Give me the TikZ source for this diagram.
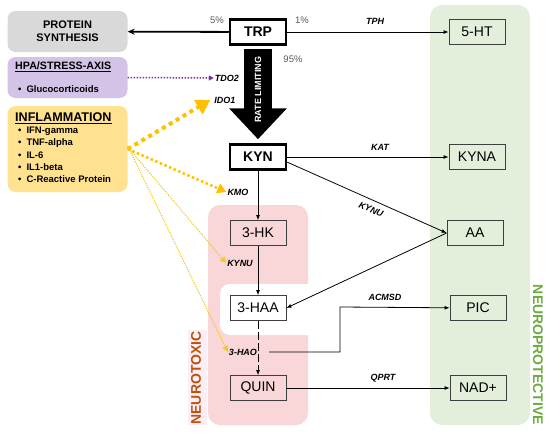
\documentclass[tikz,border=0pt]{standalone}
\usepackage{fontspec}
\setmainfont{Liberation Sans}
\usepackage{tikz}
\usetikzlibrary{positioning, arrows.meta}

\definecolor{boxline}{HTML}{3F3F3F}
\definecolor{protgray}{HTML}{D9D9D9}
\definecolor{hpapurple}{HTML}{D3C3E6}
\definecolor{dotpurple}{HTML}{7030A0}
\definecolor{inflyellow}{HTML}{FFE28F}
\definecolor{dotyellow}{HTML}{FFC000}
\definecolor{thinyellow}{HTML}{F2CB2B}
\definecolor{toxpink}{HTML}{F9D6D7}
\definecolor{toxfaint}{HTML}{FDEEF6}
\definecolor{toxtext}{HTML}{B8530F}
\definecolor{progreen}{HTML}{E3EFDB}
\definecolor{protext}{HTML}{6DAA3F}
\definecolor{pctgray}{HTML}{595959}

\tikzset{
  met/.style={draw=boxline, line width=0.8pt, minimum width=56pt, minimum height=25pt,
    inner sep=0pt, font=\fontsize{14}{16}\selectfont},
  mainmet/.style={met, draw=black, line width=2.5pt, font=\fontsize{14}{16}\selectfont\bfseries},
  enz/.style={font=\fontsize{9}{10}\selectfont\bfseries\itshape, inner sep=1pt},
  pct/.style={font=\fontsize{9.5}{10}\selectfont, text=pctgray, inner sep=1pt},
  conn/.style={-{Latex[length=5pt,width=4pt]}, line width=0.8pt},
  infobox/.style={rounded corners=8pt, minimum width=120pt, inner sep=0pt},
  region/.style={rounded corners=12pt},
}

\begin{document}
\begin{tikzpicture}[x=1pt, y=-1pt, node distance=2cm, on grid]
  \useasboundingbox (0,0) rectangle (550,434);

  % Regiones de fondo
  \fill[progreen, region] (430,5) rectangle (530,425);
  \fill[toxfaint] (188,330) rectangle (207,425);
  \fill[toxpink, region] (208,205) rectangle (308,425);
  \fill[white, rounded corners=10pt] (220,284) rectangle (320,335);
  \node[rotate=-90, text=protext, font=\fontsize{14}{16}\selectfont\bfseries, inner sep=0pt]
    (protlbl) at (538,355) {NEUROPROTECTIVE};
  \node[rotate=90, text=toxtext, font=\fontsize{14}{16}\selectfont\bfseries, inner sep=0pt]
    (toxlbl) at (196,378) {NEUROTOXIC};

  % Cajas de la izquierda
  \node[infobox, fill=protgray, minimum height=41pt, align=center,
    font=\fontsize{11}{13}\selectfont\bfseries] (prot) at (67.5,31.5) {PROTEIN\\SYNTHESIS};
  \node[infobox, fill=hpapurple, minimum height=41pt] (hpa) at (67.5,77.5) {};
  \node[anchor=west, inner sep=0pt, font=\fontsize{10.7}{12}\selectfont\bfseries]
    (hpatitle) at (15,67) {\underline{HPA/STRESS-AXIS}};
  \node[anchor=west, inner sep=0pt, font=\fontsize{9.5}{11}\selectfont\bfseries]
    (hpaitem) at (18,89) {\textbullet\hspace{5pt}Glucocorticoids};
  \node[infobox, fill=inflyellow, minimum height=86pt] (infl) at (67.5,149) {};
  \node[anchor=west, inner sep=0pt, font=\fontsize{12.6}{14}\selectfont\bfseries]
    (infltitle) at (15,118) {\underline{INFLAMMATION}};
  \node[anchor=north west, inner sep=0pt, align=left, font=\fontsize{9.5}{12.25}\selectfont\bfseries]
    (infllist) at (18,127) {\textbullet\hspace{5pt}IFN-gamma\\
      \textbullet\hspace{5pt}TNF-alpha\\
      \textbullet\hspace{5pt}IL-6\\
      \textbullet\hspace{5pt}IL1-beta\\
      \textbullet\hspace{5pt}C-Reactive Protein};

  % Metabolitos
  \node[mainmet] (trp) at (258,32) {TRP};
  \node[mainmet] (kyn) [below=125pt of trp] {KYN};
  \node[met, fill=toxpink] (hk) [below=76pt of kyn] {3-HK};
  \node[met, fill=white] (haa) [below=75pt of hk] {3-HAA};
  \node[met, fill=toxpink] (quin) [below=80pt of haa] {QUIN};
  \node[met] (sht) [right=219pt of trp] {5-HT};
  \node[met] (kyna) [right=219pt of kyn] {KYNA};
  \node[met] (aa) [right=217pt of hk] {AA};
  \node[met] (pic) [right=220pt of haa] {PIC};
  \node[met] (nad) [right=220pt of quin] {NAD+};

  % Enzimas y porcentajes
  \node[enz] (tph) at (375,21) {TPH};
  \node[enz] (kat) at (380,147) {KAT};
  \node[enz] (kmo) at (238,192) {KMO};
  \node[enz] (kynu) at (240,263) {KYNU};
  \node[enz] (hao) at (243,352) {3-HAO};
  \node[enz] (acmsd) at (385,297) {ACMSD};
  \node[enz] (qprt) at (383,378) {QPRT};
  \node[enz] (tdo) at (227,78) {TDO2};
  \node[enz] (ido) at (225,100) {IDO1};
  \node[pct] (p5) at (217,20) {5\%};
  \node[pct] (p1) at (302,20) {1\%};
  \node[pct] (p95) at (293,59) {95\%};
  \coordinate (branch) at (269,352);

  % Flecha grande
  \draw[line width=28pt, -{Triangle[length=31pt,width=56pt]}, shorten <=3pt, shorten >=4pt]
    (trp) -- (kyn) node[pos=0.45, rotate=90, text=white,
      font=\fontsize{9}{10}\selectfont\bfseries] (ratelbl) {RATE LIMITING};

  % Conexiones
  \draw[-{Stealth[length=7pt,width=6pt]}, line width=1.8pt] (trp) -- (prot);
  \draw[conn] (trp) -- (sht);
  \draw[conn] (kyn) -- (kyna);
  \draw[conn] (kyn.-10) -- (aa.west);
  \draw[conn] (aa.west) -- (haa.east);
  \draw[conn] (kyn) -- (hk);
  \draw[conn] (hk) -- (haa);
  \draw[conn, dash pattern=on 8pt off 3pt] (haa) -- (quin);
  \draw[conn] (branch) -| (340,307) -- (pic);
  \draw[conn] (quin) -- (nad);
  \path (kyn.-10) -- (aa.west) node[enz, pos=0.55, sloped, below=5pt] (kynuaa) {KYNU};

  % Flechas punteadas de regulacion
  \draw[dotpurple, line width=1.5pt, dash pattern=on 1.5pt off 1.5pt,
    -{Triangle[length=5pt,width=5pt]}] (hpa.east) -- (tdo.west);
  \draw[dotyellow, line width=4pt, dash pattern=on 4pt off 4pt,
    -{Triangle[length=14pt,width=16pt]}] (infl.east) -- ([xshift=-3pt]ido.west);
  \draw[dotyellow, line width=2.5pt, dash pattern=on 2.5pt off 2.5pt,
    -{Triangle[length=9pt,width=10pt]}] (infl.east) -- (kmo.west);
  \draw[thinyellow, line width=1.2pt, dash pattern=on 1.2pt off 1.2pt,
    -{Triangle[length=6pt,width=6pt]}] ([yshift=2pt]infl.east) -- (kynu.west);
  \draw[thinyellow, line width=1.2pt, dash pattern=on 1.2pt off 1.2pt,
    -{Triangle[length=6pt,width=6pt]}] ([yshift=3pt]infl.east) -- (hao.west);
\end{tikzpicture}
\end{document}
